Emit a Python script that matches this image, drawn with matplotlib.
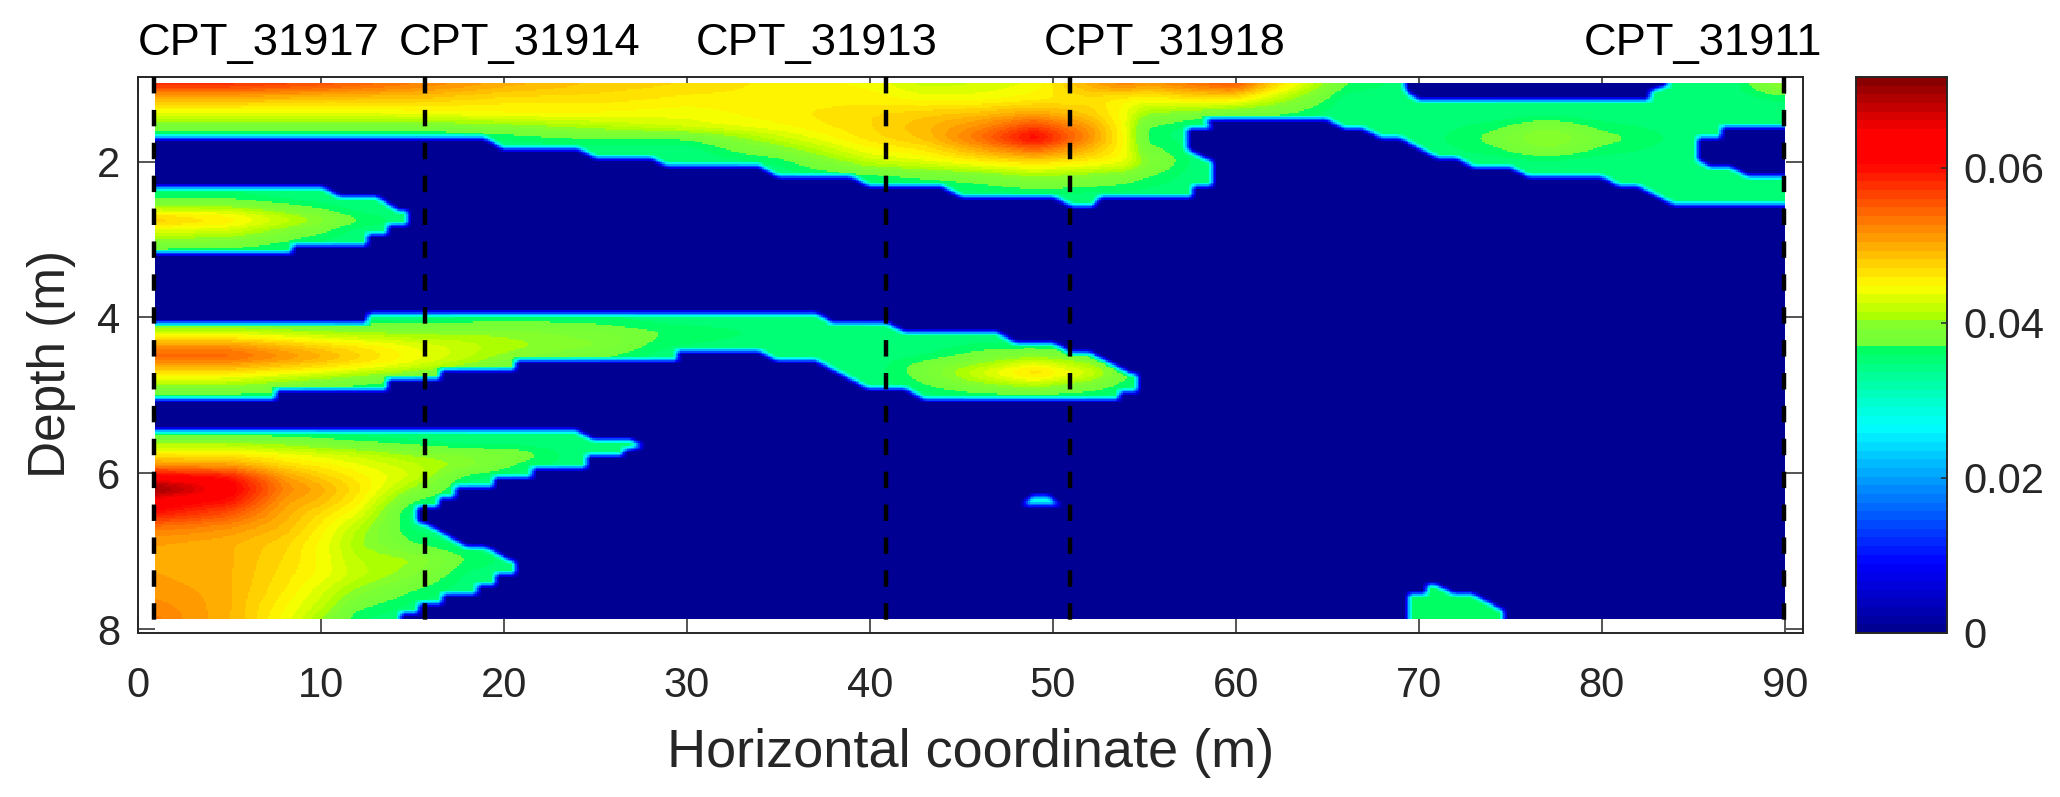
import numpy as np
import matplotlib
matplotlib.use("Agg")
import matplotlib.pyplot as plt
from matplotlib.colors import ListedColormap
from matplotlib.path import Path

plt.rcParams['font.family'] = ['Liberation Sans', 'DejaVu Sans']

# ---------- data ----------
cpt_names = ['CPT_31917', 'CPT_31914', 'CPT_31913', 'CPT_31918', 'CPT_31911']
cpt_x = [0.9, 15.67, 40.87, 50.96, 89.97]
label_x = [0.0, 14.24, 30.5, 49.5, 79.0]
x_ticks = [0, 10, 20, 30, 40, 50, 60, 70, 80, 90]
y_ticks = [2, 4, 6, 8]
cbar_ticks = [0, 0.02, 0.04, 0.06]
cbar_labels = ['0', '0.02', '0.04', '0.06']
vmax = 0.0717
grid_x = (0.98, 90.0)
grid_d = (1.0, 7.86)

# Anomaly outlines: x (m), depth (m)
zone_a_outline = [(0, 0.9), (91, 0.9), (91, 2.556), (84, 2.556), (82, 2.317), (81, 2.317), (80, 2.19), (76, 2.19),
                  (75, 2.068), (73, 2.068), (72, 1.945), (71, 1.945), (69, 1.696), (68, 1.696), (67, 1.58),
                  (66, 1.58), (65, 1.452), (58.3, 1.452), (58.7, 1.568), (57.3, 1.568), (57.3, 1.846),
                  (58.7, 2.0), (58.7, 2.32), (57.6, 2.32), (57.6, 2.445), (52.6, 2.445), (52.2, 2.565),
                  (51, 2.565), (50, 2.445), (45, 2.445), (44, 2.32), (40, 2.32), (39, 2.19), (35, 2.19),
                  (34, 2.06), (29, 2.06), (28, 1.945), (25, 1.945), (24, 1.824), (19.9, 1.824), (19, 1.696),
                  (0, 1.696)]
hole_top = [(69.2, 0.9), (69.3, 1.1), (70, 1.213), (82.6, 1.213), (82.6, 1.1), (83.6, 1.02), (83.6, 0.9)]
hole_right = [(91, 2.19), (88, 2.19), (87, 2.07), (85.9, 2.07), (85.25, 1.98), (85.25, 1.69), (86.5, 1.69),
              (86.5, 1.56), (91, 1.56)]
zone_b_outline = [(0, 2.325), (10, 2.325), (11, 2.445), (13, 2.445), (14.3, 2.64), (14.7, 2.64), (14.7, 2.81),
                  (13.6, 2.81), (13.6, 2.94), (12.5, 2.94), (12.5, 3.065), (8.4, 3.065), (8.4, 3.17), (0, 3.17)]
zone_c_outline = [(0, 4.08), (12.5, 4.08), (12.6, 3.95), (37.1, 3.95), (38, 4.08), (41, 4.08), (42, 4.2), (47, 4.2),
                  (48, 4.33), (50, 4.33), (51, 4.45), (52, 4.45), (54.3, 4.73), (54.6, 4.73), (54.6, 4.95),
                  (53.6, 4.95), (53.6, 5.055), (43, 5.055), (42, 4.92), (40, 4.92), (37.1, 4.56), (35, 4.56),
                  (34, 4.435), (29.4, 4.435), (29.6, 4.56), (20.6, 4.56), (20.6, 4.68), (16.5, 4.68), (16.5, 4.8),
                  (13.6, 4.8), (13.6, 4.93), (7.5, 4.93), (7.5, 5.055), (0, 5.055)]
zone_d_outline = [(0, 5.46), (24, 5.46), (25, 5.58), (27, 5.58), (27.6, 5.655), (26.5, 5.7), (26.5, 5.78),
                  (24.5, 5.78), (24.5, 5.93), (21.5, 5.93), (21.5, 6.06), (19.4, 6.06), (19.4, 6.18), (17.3, 6.18),
                  (17.3, 6.31), (16.4, 6.31), (16.4, 6.44), (15.2, 6.44), (15.2, 6.63), (15.7, 6.65), (18, 6.95),
                  (19, 6.95), (20.4, 7.13), (20.6, 7.13), (20.6, 7.30), (19.5, 7.30), (19.5, 7.43), (18.5, 7.43),
                  (18.5, 7.545), (16.6, 7.545), (16.6, 7.665), (15.3, 7.665), (15.3, 7.785), (14.3, 7.785),
                  (14.3, 8.0), (0, 8.0)]
zone_e_outline = [(48.3, 6.42), (48.8, 6.3), (49.8, 6.3), (50.5, 6.42)]
zone_f_outline = [(69.4, 8.0), (69.4, 7.56), (70.4, 7.56), (70.4, 7.43), (70.9, 7.43), (72, 7.56), (73, 7.56),
                  (74.6, 7.76), (74.6, 8.0)]

# Values (thousandths) by column x, down the depths listed
zone_a_x = [1, 5, 10, 15, 20, 25, 30, 35, 40, 43, 46, 49, 52, 54, 55, 58, 60, 62, 66, 70, 74, 77, 80, 85, 87, 90]
zone_a_d = [1.0, 1.2, 1.4, 1.55, 1.7, 1.85, 2.0, 2.2, 2.45]
zone_a_v = [
    [58, 49, 43, 38, 35, 35, 35, 35, 35],
    [58, 49, 43, 38, 35, 35, 35, 35, 35],
    [56, 48, 43, 38, 35, 35, 35, 35, 35],
    [53, 48, 43.5, 38, 35, 35, 35, 35, 35],
    [50, 46.5, 44.5, 39, 36, 35, 35, 35, 35],
    [48, 46.5, 44.5, 41, 37, 35, 35, 35, 35],
    [47, 45.5, 44, 43, 37, 35, 35, 35, 35],
    [45.5, 45.5, 45.5, 44.5, 42, 39, 36, 35, 35],
    [44.5, 45.5, 47, 47, 46.5, 44.5, 42, 36, 35],
    [42, 44.5, 48, 49, 48.5, 46, 43.5, 37, 35],
    [42.5, 44.5, 49, 52, 54, 50, 45.5, 38, 35],
    [44, 45.5, 51, 57, 61.5, 54, 47, 40, 35],
    [50, 46.5, 48, 51, 52, 49, 45.5, 39, 35],
    [53, 45, 44, 44, 44.5, 44.5, 44, 38, 35],
    [51, 44.5, 40, 37, 36.5, 38, 40, 37, 35],
    [54, 46, 38, 35, 35, 35, 35, 35, 35],
    [56, 45.5, 37, 35, 35, 35, 35, 35, 35],
    [48, 42, 37, 35, 35, 35, 35, 35, 35],
    [37, 35, 35, 35, 35, 35, 35, 35, 35],
    [35, 35, 35, 35, 35, 35, 35, 35, 35],
    [35, 35, 35, 36.5, 37.6, 36.5, 35, 35, 35],
    [35, 35, 35.5, 39, 41, 39, 35.5, 35, 35],
    [35, 35, 35, 36.5, 37.8, 36.5, 35, 35, 35],
    [35, 35, 35, 35, 35, 35, 35, 35, 35],
    [35, 35, 35, 35, 35, 35, 35, 35, 35],
    [41, 36, 35, 35, 35, 35, 35, 35, 35],
]

zone_b_x = [1, 5, 9, 12, 15]
zone_b_d = [2.3, 2.5, 2.65, 2.75, 2.85, 3.0, 3.2]
zone_b_v = [
    [35, 37, 44, 49, 44.5, 40, 35],
    [35, 37, 43.5, 46, 43.5, 39.5, 35],
    [35, 35.5, 39, 41.5, 39, 36.5, 35],
    [35, 35, 35.5, 37.5, 35.5, 35, 35],
    [35, 35, 35, 35, 35, 35, 35],
]

zone_c_x = [1, 5, 10, 15, 20, 25, 29, 35, 40, 43, 46, 49, 52, 55]
zone_c_d = [4.0, 4.2, 4.35, 4.5, 4.62, 4.72, 4.85, 5.05]
zone_c_v = [
    [35, 43, 51, 55, 50, 46, 41, 35],
    [35, 43, 51, 55, 50, 46, 41, 35],
    [35, 41, 47, 50, 47, 43, 38, 35],
    [35, 40, 43.5, 44.5, 43, 39, 35.5, 35],
    [36, 40, 41, 40, 38, 35.5, 35, 35],
    [36, 38.5, 39.5, 37.5, 35.5, 35, 35, 35],
    [35, 37, 36, 35, 35, 35, 35, 35],
    [35, 35.5, 35, 35, 35, 35, 35, 35],
    [35, 35, 35, 35, 35, 35, 35, 35],
    [35, 35, 35, 36, 38, 38, 37, 35],
    [35, 35, 36, 38, 41, 43, 40, 35],
    [35, 35, 35.5, 40, 45, 47.5, 42, 35],
    [35, 35, 35, 38, 41, 43, 39, 35],
    [35, 35, 35, 35, 35, 35, 35, 35],
]

zone_d_x = [1, 3, 5, 8, 10, 12, 15, 18, 21, 24]
zone_d_d = [5.45, 5.6, 5.75, 5.9, 6.05, 6.2, 6.35, 6.5, 6.7, 6.9, 7.1, 7.3, 7.5, 7.7, 7.85]
zone_d_v = [
    [35, 40, 45.5, 52, 63, 71.5, 64, 60, 53, 50.5, 50, 50.5, 51, 52, 53],
    [35, 40, 45.5, 51, 61.5, 68, 61.5, 58, 52.5, 50, 50, 50, 50.5, 51, 51],
    [35, 40, 45.5, 51, 60, 62.5, 60, 56, 51.5, 49.5, 49.5, 49.5, 49.5, 49.5, 49.5],
    [35, 39, 44, 47, 51, 52.5, 51, 50, 49, 47.5, 47, 46.5, 46, 45, 44.5],
    [35, 38, 43, 45.5, 48, 50, 49, 47, 45.5, 44.5, 44.5, 44.5, 43, 42, 40.5],
    [35, 37, 42, 44, 45.5, 46.5, 45.5, 44, 41.5, 40.5, 41.5, 42, 40, 37.5, 36],
    [35, 36, 40, 42, 42.5, 40, 37, 35, 35.5, 37, 40.5, 39.5, 37, 35.5, 35],
    [35, 35, 39, 40, 36, 35, 35, 35, 35, 35, 37, 35.5, 35, 35, 35],
    [35, 35, 38, 36.5, 35, 35, 35, 35, 35, 35, 35, 35, 35, 35, 35],
    [35, 35, 35, 35, 35, 35, 35, 35, 35, 35, 35, 35, 35, 35, 35],
]

zone_e_value = 27
zone_f_value = 36

# Colour scale stops
stop_val = [0, 0.009, 0.0266, 0.0365, 0.0372, 0.0396, 0.0409, 0.0447, 0.0527, 0.0606, 0.0645, 0.0717]
stop_r = [0, 0, 0, 0, 0.45, 0.50, 0.67, 1, 1, 1, 1, 0.5]
stop_g = [0, 0, 1, 1, 1, 1, 1, 1, 0.5, 0, 0, 0]
stop_b = [0.55, 1, 1, 0.38, 0.22, 0.2, 0, 0, 0, 0, 0, 0]

# ---------- building the field ----------
fx = np.arange(grid_x[0], grid_x[1] + 0.05, 0.1)
fd = np.arange(grid_d[0], grid_d[1] + 0.01, 0.02)
XX, DD = np.meshgrid(fx, fd)
pts = np.column_stack([XX.ravel(), DD.ravel()])


def inside(outline):
    return Path(outline + [outline[0]]).contains_points(pts).reshape(XX.shape).astype(float)


def box(a, nx, nd):
    pad = ((nd, nd), (nx, nx))
    b = np.pad(a, pad, mode='edge')
    kx = np.ones(2 * nx + 1) / (2 * nx + 1)
    kd = np.ones(2 * nd + 1) / (2 * nd + 1)
    b = np.apply_along_axis(lambda r: np.convolve(r, kx, mode='same'), 1, b)
    b = np.apply_along_axis(lambda c: np.convolve(c, kd, mode='same'), 0, b)
    return b[nd:-nd, nx:-nx]


def field(xs, ds, vals):
    v = np.array(vals, dtype=float)
    along_d = np.array([np.interp(fd, ds, col) for col in v])
    full = np.array([np.interp(fx, xs, along_d[:, j]) for j in range(along_d.shape[1])])
    return box(full, 5, 3) / 1000.0


mask_a = np.clip(inside(zone_a_outline) - inside(hole_top) - inside(hole_right), 0, 1)
layers = [
    field(zone_a_x, zone_a_d, zone_a_v) * box(mask_a, 2, 2),
    field(zone_b_x, zone_b_d, zone_b_v) * box(inside(zone_b_outline), 2, 2),
    field(zone_c_x, zone_c_d, zone_c_v) * box(inside(zone_c_outline), 2, 2),
    field(zone_d_x, zone_d_d, zone_d_v) * box(inside(zone_d_outline), 2, 2),
    zone_e_value / 1000.0 * box(inside(zone_e_outline), 2, 2),
    zone_f_value / 1000.0 * box(inside(zone_f_outline), 2, 2),
]
Z = np.max(layers, axis=0)

centres = (np.arange(64) + 0.5) / 64 * vmax
cmap = ListedColormap(np.column_stack([np.interp(centres, stop_val, stop_r),
                                       np.interp(centres, stop_val, stop_g),
                                       np.interp(centres, stop_val, stop_b)]))

# ---------- drawing ----------
W, H = 2060, 797
fig = plt.figure(figsize=(W / 100, H / 100), dpi=100, facecolor='white')
ax = fig.add_axes([138 / W, 1 - 633 / H, 1665 / W, 556 / H])
cax = fig.add_axes([1855.5 / W, 1 - 633 / H, 91.5 / W, 556 / H])

ink = '#262626'
mesh = ax.pcolormesh(fx, fd, Z, cmap=cmap, vmin=0, vmax=vmax, shading='nearest', rasterized=True, zorder=1)
ax.set_xlim(0, 91)
ax.set_ylim(8.05, 0.913)
ax.set_axisbelow(True)
ax.set_xticks(x_ticks)
ax.set_yticks(y_ticks)
ax.tick_params(axis='both', direction='in', top=True, right=True, length=12.5, width=1.1, color=ink,
               labelcolor=ink, labelsize=30)
ax.tick_params(axis='x', pad=24)
ax.tick_params(axis='y', pad=13)
for s in ax.spines.values():
    s.set_linewidth(1.4)
    s.set_color(ink)

for xc in cpt_x:
    ax.plot([xc, xc], [0.913, 7.97], color='black', lw=3.2, dashes=(3.7, 3.7), dash_capstyle='butt', zorder=3,
            clip_on=False)
for name, xl in zip(cpt_names, label_x):
    ax.text(xl, 0.626, name, fontsize=32.6, color='black', ha='left', va='baseline', clip_on=False)

ax.set_xlabel('Horizontal coordinate (m)', fontsize=39, color=ink, va='center')
ax.xaxis.set_label_coords(0.5, -0.215)
ax.set_ylabel('Depth (m)', fontsize=37, color=ink, va='center')
ax.yaxis.set_label_coords(-0.052, 0.484)

cb = fig.colorbar(mesh, cax=cax)
cb.set_ticks(cbar_ticks)
cb.set_ticklabels(cbar_labels)
cb.ax.tick_params(direction='in', length=4.5, width=1.1, color=ink, labelcolor=ink, labelsize=30, pad=12)
cb.outline.set_linewidth(1.4)
cb.outline.set_edgecolor(ink)

fig.savefig('out.png', dpi=100, facecolor='white')
